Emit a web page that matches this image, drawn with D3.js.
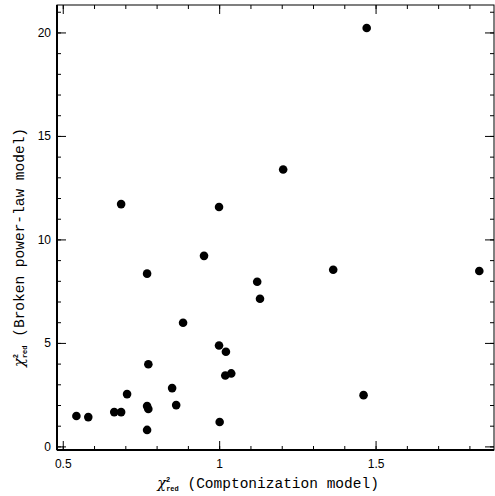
<!DOCTYPE html>
<html><head><meta charset="utf-8">
<script src="https://cdn.jsdelivr.net/npm/d3@7"></script>
<style>body{margin:0;background:#fff}</style>
</head><body>
<script>
var xs = [0.542,0.58,0.663,0.685,0.704,0.772,0.768,0.768,0.772,0.768,0.685,0.848,0.861,0.883,0.95,0.998,0.998,1.0,1.018,1.02,1.037,1.12,1.129,1.203,1.363,1.46,1.47,1.83];
var ys = [1.49,1.44,1.68,1.68,2.55,1.83,1.97,0.82,3.99,8.37,11.73,2.84,2.02,6.0,9.23,11.59,4.9,1.2,3.45,4.6,3.55,7.98,7.16,13.4,8.56,2.5,20.24,8.5];
var xTicks = [0.5,1,1.5];
var yTicks = [0,5,10,15,20];

var W = 495, H = 496;
var m = {left:57, right:1, top:5, bottom:46};
var svg = d3.select("body").append("svg").attr("width",W).attr("height",H);
var g = svg.append("g").attr("transform","translate("+m.left+","+m.top+")");
var w = W-m.left-m.right, h = H-m.top-m.bottom;

var x = d3.scaleLinear().domain([0.48,1.877]).range([0,w]);
var y = d3.scaleLinear().domain([-0.15,21.35]).range([h,0]);

var xMinor = d3.range(5,19).map(function(d){return d/10;});
var yMinor = d3.range(0,22);

function ticks(sel, arr, scale, isX, len){
  sel.selectAll(null).data(arr).enter().append("line")
    .attr("x1",function(d){return isX?scale(d):0;})
    .attr("x2",function(d){return isX?scale(d):len;})
    .attr("y1",function(d){return isX?h:scale(d);})
    .attr("y2",function(d){return isX?h-len:scale(d);})
    .attr("stroke","#000").attr("stroke-width",1);
  sel.selectAll(null).data(arr).enter().append("line")
    .attr("x1",function(d){return isX?scale(d):w;})
    .attr("x2",function(d){return isX?scale(d):w-len;})
    .attr("y1",function(d){return isX?0:scale(d);})
    .attr("y2",function(d){return isX?len:scale(d);})
    .attr("stroke","#000").attr("stroke-width",1);
}
ticks(g, xMinor, x, true, 4);
ticks(g, xTicks, x, true, 9);
ticks(g, yMinor, y, false, 4);
ticks(g, yTicks, y, false, 9);

g.append("rect").attr("width",w).attr("height",h).attr("fill","none").attr("stroke","#000").attr("stroke-width",1);
g.append("line").attr("x1",0).attr("x2",w).attr("y1",h).attr("y2",h).attr("stroke","#000").attr("stroke-width",2);
g.append("line").attr("x1",0).attr("x2",0).attr("y1",0).attr("y2",h).attr("stroke","#000").attr("stroke-width",2);

g.selectAll(".xl").data(xTicks).enter().append("text")
  .attr("x",function(d){return x(d);}).attr("y",h+18).attr("text-anchor","middle")
  .attr("font-family","Liberation Sans, Arial").attr("font-size",12).text(function(d){return d;});
g.selectAll(".yl").data(yTicks).enter().append("text")
  .attr("x",-6).attr("y",function(d){return y(d)+4;}).attr("text-anchor","end")
  .attr("font-family","Liberation Sans, Arial").attr("font-size",12).text(function(d){return d;});

g.selectAll("circle").data(xs).enter().append("circle")
  .attr("cx",function(d){return x(d);}).attr("cy",function(d,i){return y(ys[i]);})
  .attr("r",4.3).attr("fill","#000");

var xt = svg.append("text").attr("x",268).attr("y",H-8).attr("text-anchor","middle")
  .attr("font-family","Liberation Mono, Courier New").attr("font-size",14.5);
xt.append("tspan").attr("font-family","DejaVu Serif").attr("font-style","italic").text("χ");
xt.append("tspan").attr("font-size",7).attr("font-weight","bold").attr("dy",-6).attr("dx",0).text("2");
xt.append("tspan").attr("font-size",7).attr("font-weight","bold").attr("dy",9).attr("dx",-4).text("red");
xt.append("tspan").attr("dy",-3).text(" (Comptonization model)");

var yt = svg.append("text").attr("transform","translate(24,"+(m.top+h/2+20)+") rotate(-90)").attr("text-anchor","middle")
  .attr("font-family","Liberation Mono, Courier New").attr("font-size",14.5);
yt.append("tspan").attr("font-family","DejaVu Serif").attr("font-style","italic").text("χ");
yt.append("tspan").attr("font-size",7).attr("font-weight","bold").attr("dy",-6).text("2");
yt.append("tspan").attr("font-size",7).attr("font-weight","bold").attr("dy",9).attr("dx",-4).text("red");
yt.append("tspan").attr("dy",-3).text(" (Broken power-law model)");
</script>
</body></html>
